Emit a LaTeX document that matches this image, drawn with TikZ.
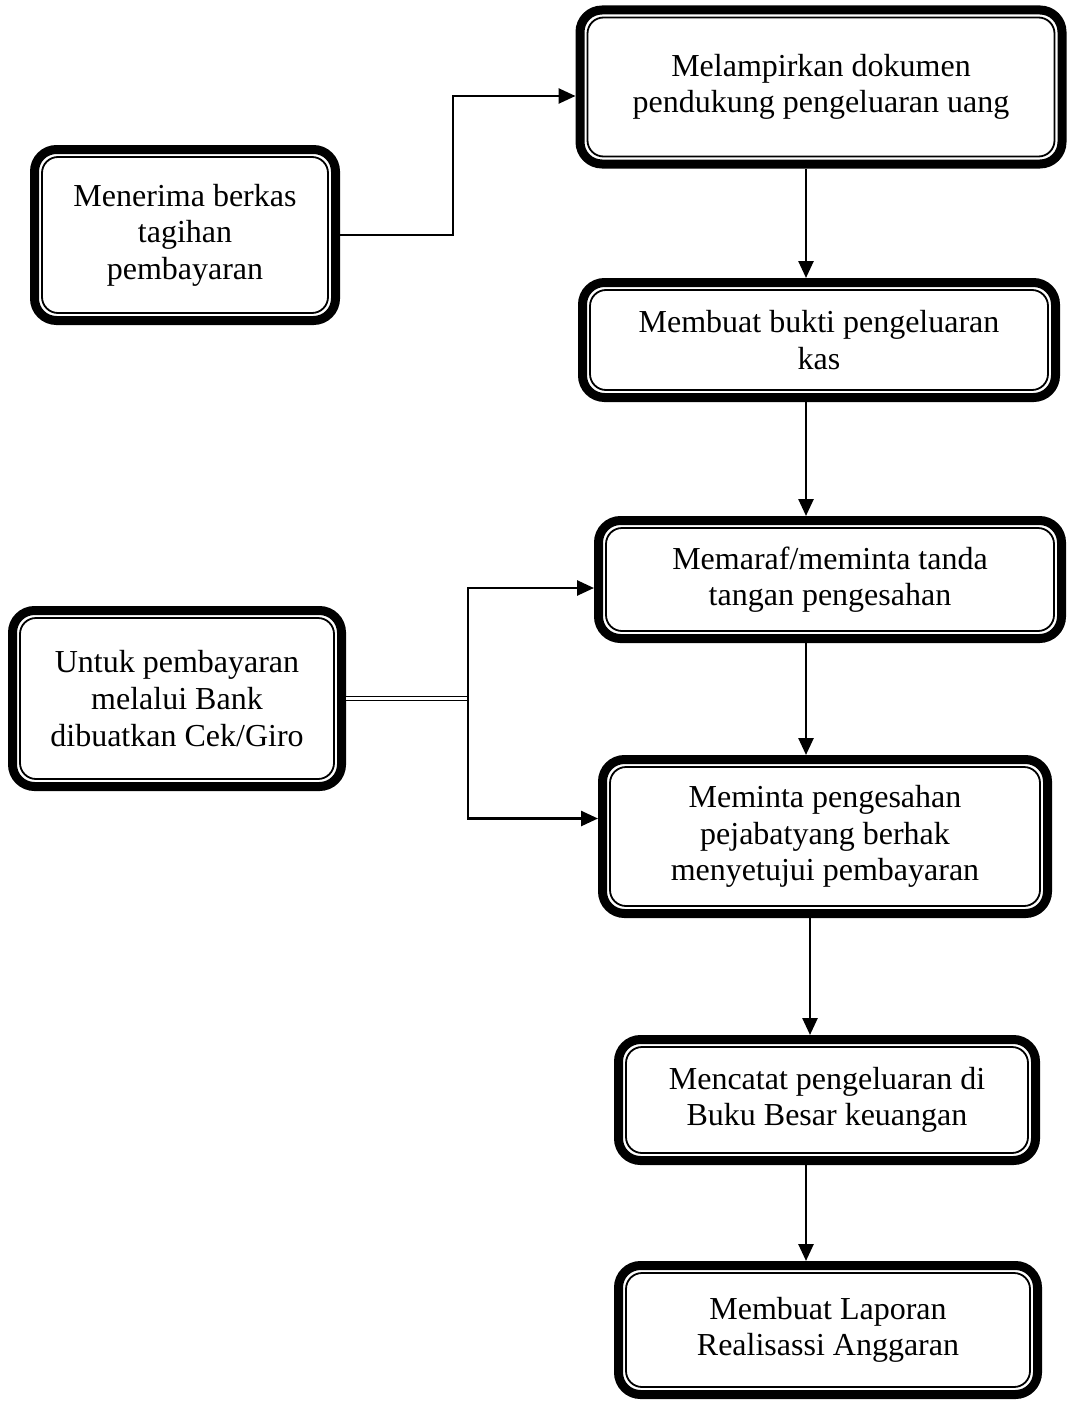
\documentclass[tikz,border=0pt]{standalone}
\usepackage{fontspec}
\setmainfont{Liberation Serif}
\usetikzlibrary{arrows.meta, positioning}

\tikzset{
  stepnode/.style={draw, line width=4.5pt, rounded corners=11pt, align=center, inner sep=0pt,
    font=\fontsize{16}{18.3}\selectfont},
  flow/.style={line width=1.3pt, -{Triangle[length=8.5pt,width=7.5pt]}},
}

\begin{document}
\begin{tikzpicture}[x=0.5pt, y=-0.5pt]
	\useasboundingbox (0,0) rectangle (1068,1402);
	\node[stepnode, minimum width=241pt, minimum height=77pt] (lampir) at (821,87) {Melampirkan dokumen\\pendukung pengeluaran uang};
	\node[stepnode, minimum width=150.5pt, minimum height=85.5pt] (terima) at (185,235) {Menerima berkas\\tagihan\\pembayaran};
	\node[stepnode, minimum width=236.5pt, minimum height=57.5pt] (bukti) at (819,340) {Membuat bukti pengeluaran\\kas};
	\node[stepnode, minimum width=231.5pt, minimum height=59pt] (paraf) at (830,579.5) {Memaraf/meminta tanda\\tangan pengesahan};
	\node[stepnode, minimum width=164.5pt, minimum height=88pt] (bank) at (177,698.5) {Untuk pembayaran\\melalui Bank\\dibuatkan Cek/Giro};
	\node[stepnode, minimum width=222.5pt, minimum height=77pt] (sah) at (825,836.5) {Meminta pengesahan\\pejabatyang berhak\\menyetujui pembayaran};
	\node[stepnode, minimum width=208.5pt, minimum height=60.5pt] (catat) at (827,1100) {Mencatat pengeluaran di\\Buku Besar keuangan};
	\node[stepnode, minimum width=209.5pt, minimum height=64.5pt] (lapor) at (828,1330) {Membuat Laporan\\Realisassi Anggaran};

	% inner thin line of each box
	\foreach \n in {lampir, terima, bukti, paraf, bank, sah, catat, lapor}
		\draw[line width=0.9pt, rounded corners=8pt] ([shift={(6pt,-6pt)}]\n.north west) rectangle ([shift={(-6pt,6pt)}]\n.south east);

	\coordinate (spine) at (806,0);
	\coordinate (spinetwo) at (810,0);
	\coordinate (fork) at ([xshift=61pt]bank.east);

	\draw[flow] (terima.east) -- ++(113,0) |- ([yshift=-4.5pt]lampir.west);
	\draw[flow] (lampir.south -| spine) -- (bukti.north -| spine);
	\draw[flow] (bukti.south -| spine) -- (paraf.north -| spine);
	\draw[flow] (paraf.south -| spine) -- (sah.north -| spine);
	\draw[flow] (sah.south -| spinetwo) -- (catat.north -| spinetwo);
	\draw[flow] (catat.south -| spine) -- (lapor.north -| spine);

	\draw[double, double distance=1.5pt, line width=0.7pt] (bank.east) -- (fork);
	\draw[flow] (fork) |- ([yshift=-4.25pt]paraf.west);
	\draw[flow] (fork) |- ([yshift=9pt]sah.west);
\end{tikzpicture}
\end{document}
